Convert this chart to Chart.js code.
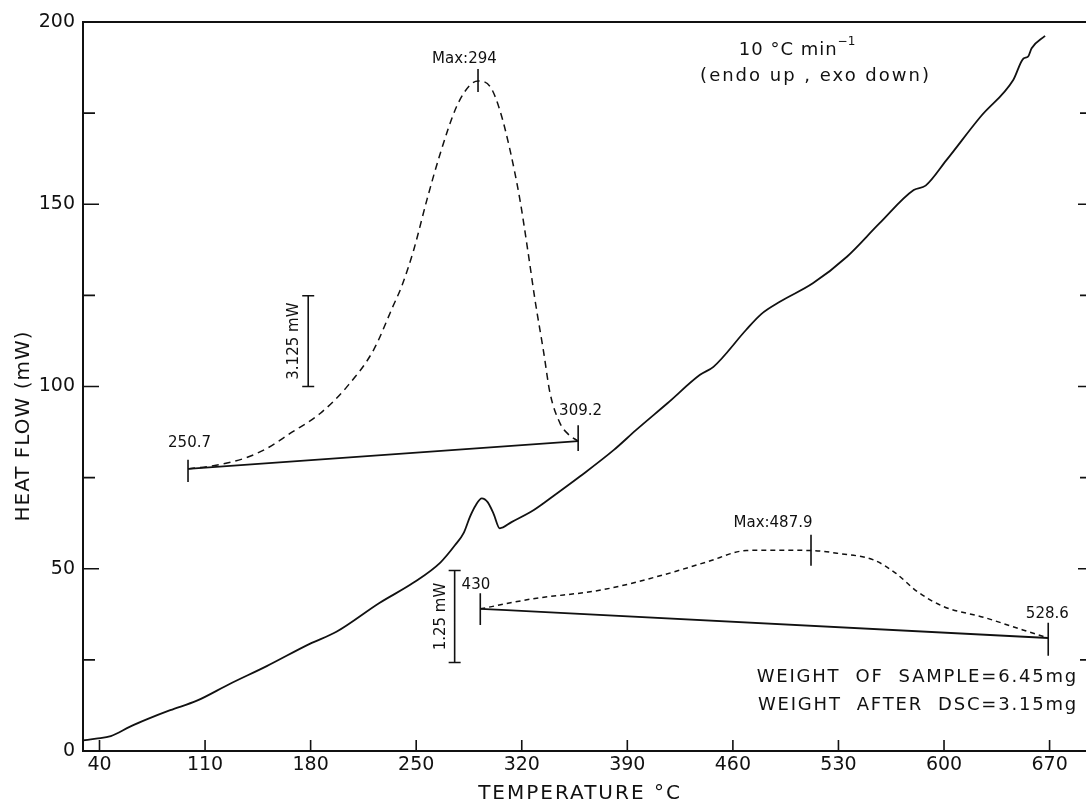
<!DOCTYPE html>
<html>
<head>
<meta charset="utf-8">
<script src="https://cdn.jsdelivr.net/npm/chart.js@4/dist/chart.umd.min.js"></script>
<style>
html, body { margin: 0; padding: 0; background: #fff; overflow: hidden; }
canvas { display: block; }
</style>
</head>
<body>
<canvas id="chart" width="1096" height="804"></canvas>
<script>
'use strict';

var FONT = 'DejaVu Sans';
var INK = '#111';

var xTicks = [40, 110, 180, 250, 320, 390, 460, 530, 600, 670];
var yTicks = [0, 50, 100, 150, 200];
var yMinorTicks = [25, 75, 125, 175];

// main DSC trace
var mainT  = [29.3, 37.7, 47.5, 60.3, 72.1, 86.9, 104.6, 126.3, 150.9, 179.4, 197.1, 225.6, 248.3, 266.0, 275.8, 281.7, 285.7, 289.6, 293.5, 297.5, 301.4, 305.4, 313.2, 328.0, 342.8, 358.5, 381.1, 395.9, 416.6, 438.2, 447.1, 468.7, 478.6, 491.4, 513.0, 535.6, 557.3, 579.9, 587.8, 601.6, 624.2, 645.9, 652.7, 655.7, 658.1, 667.0];
var mainHF = [2.9, 3.4, 4.1, 6.7, 8.8, 11.2, 13.8, 18.4, 23.3, 29.4, 32.7, 40.6, 46.2, 51.7, 56.5, 60, 64.3, 67.5, 69.3, 68.2, 65, 61.1, 62.8, 66.1, 70.5, 75.3, 82.6, 88.1, 95.4, 103.2, 105.4, 115.5, 119.8, 123.3, 128.3, 135.6, 144.8, 153.9, 155.1, 162.1, 174, 184.1, 190, 190.5, 192.8, 196.2];

// expanded first peak (dashed)
var peak1T  = [98.7, 116.4, 136.1, 150.9, 166.6, 186.3, 204.0, 221.7, 234.5, 240.4, 248.3, 257.1, 266.0, 276.8, 285.7, 291.2, 299.0, 305.4, 312.2, 318.8, 324.3, 328.8, 334.3, 338.8, 345.4, 350.6, 357.4];
var peak1HF = [77.4, 78.3, 80.3, 83.0, 87.2, 92.6, 99.9, 110, 121.9, 127.5, 137.4, 151.2, 164, 176.8, 182.7, 183.8, 182.3, 175.9, 164.9, 151.2, 136.5, 123.7, 110, 98.1, 89.9, 87, 85.0];
var base1T  = [98.7, 357.4];
var base1HF = [77.4, 85.0];

// expanded second peak (dashed)
var peak2T  = [292.5, 326.5, 373.1, 413.8, 442.9, 469.0, 486.5, 512.7, 530.1, 553.4, 567.9, 582.4, 599.9, 626.1, 652.3, 669.1];
var peak2HF = [39.0, 41.7, 44.2, 48.3, 51.9, 55.0, 55.1, 55.0, 54.2, 52.4, 48.8, 43.7, 39.6, 36.7, 33.2, 31.0];
var base2T  = [292.5, 669.1];
var base2HF = [39.0, 31.0];

// short vertical marks: [temperature, from, to]
var marks = [[98.7, 73.8, 79.9], [357.4, 82.3, 89.4], [291.0, 180.8, 187.1],
             [292.5, 34.6, 43.3], [669.1, 26.1, 35.2], [511.8, 50.8, 59.3]];

// scale bars: [temperature, from, to, label]
var bars = [[178.4, 100, 124.9, '3.125 mW'], [275.5, 24.3, 49.5, '1.25 mW']];

// text notes: [temperature, heat flow, text]
var notes = [[282.0, 189.8, 'Max:294'], [99.7, 84.5, '250.7'], [359.0, 93.3, '309.2'],
             [486.6, 62.6, 'Max:487.9'], [289.6, 45.5, '430'], [668.5, 37.6, '528.6']];

function pts(xs, ys) {
    return xs.map(function (x, i) { return { x: x, y: ys[i] }; });
}

function line(xs, ys, width, dash) {
    return {
        data: pts(xs, ys),
        showLine: true,
        borderColor: INK,
        borderWidth: width,
        borderDash: dash || [],
        pointRadius: 0,
        cubicInterpolationMode: 'monotone'
    };
}

function text(ctx, str, x, y, size, align, spacing, rot) {
    ctx.save();
    ctx.font = size + 'px "' + FONT + '"';
    ctx.fillStyle = INK;
    ctx.letterSpacing = (spacing || 0) + 'px';
    ctx.textAlign = align || 'center';
    ctx.textBaseline = 'middle';
    ctx.translate(x, y);
    if (rot) ctx.rotate(rot);
    ctx.fillText(str, 0, 0);
    ctx.restore();
}

var extras = {
    id: 'extras',
    afterDraw: function (chart) {
        var ctx = chart.ctx, a = chart.chartArea;
        var sx = chart.scales.x, sy = chart.scales.y;
        function px(v) { return sx.getPixelForValue(v); }
        function py(v) { return sy.getPixelForValue(v); }

        ctx.save();
        ctx.strokeStyle = INK;
        ctx.lineWidth = 2;
        ctx.strokeRect(a.left, a.top, a.right - a.left, a.bottom - a.top);

        ctx.lineWidth = 1.6;
        ctx.beginPath();
        yTicks.forEach(function (v) {
            ctx.moveTo(a.left, py(v)); ctx.lineTo(a.left + 16, py(v));
            ctx.moveTo(a.right, py(v)); ctx.lineTo(a.right - 12, py(v));
        });
        yMinorTicks.forEach(function (v) {
            ctx.moveTo(a.left, py(v)); ctx.lineTo(a.left + 12, py(v));
            ctx.moveTo(a.right, py(v)); ctx.lineTo(a.right - 10, py(v));
        });
        xTicks.forEach(function (v) {
            ctx.moveTo(px(v), a.bottom); ctx.lineTo(px(v), a.bottom - 11);
        });
        marks.forEach(function (m) {
            ctx.moveTo(px(m[0]), py(m[1])); ctx.lineTo(px(m[0]), py(m[2]));
        });
        bars.forEach(function (b) {
            var x = px(b[0]);
            ctx.moveTo(x, py(b[1])); ctx.lineTo(x, py(b[2]));
            ctx.moveTo(x - 6, py(b[1])); ctx.lineTo(x + 6, py(b[1]));
            ctx.moveTo(x - 6, py(b[2])); ctx.lineTo(x + 6, py(b[2]));
        });
        ctx.stroke();
        ctx.restore();

        bars.forEach(function (b) {
            text(ctx, b[3], px(b[0]) - 14, py((b[1] + b[2]) / 2), 15, 'center', 0, -Math.PI / 2);
        });
        notes.forEach(function (n) {
            text(ctx, n[2], px(n[0]), py(n[1]), 15, 'center', 0);
        });

        // rate note with superscript
        ctx.save();
        ctx.font = '18px "' + FONT + '"';
        ctx.letterSpacing = '1px';
        var main = '10 \u00B0C min';
        var w1 = ctx.measureText(main).width;
        ctx.font = '12px "' + FONT + '"';
        var w2 = ctx.measureText('\u22121').width;
        ctx.restore();
        var cx = px(503.2), cy = py(192.3);
        text(ctx, main, cx - (w1 + w2) / 2, cy, 18, 'left', 1);
        text(ctx, '\u22121', cx - (w1 + w2) / 2 + w1, cy - 8, 12, 'left', 0);
        text(ctx, '(endo up , exo down)', px(514.8), py(185.2), 18, 'center', 2);

        text(ctx, 'WEIGHT  OF  SAMPLE=6.45mg', 1078, py(20.3), 18, 'right', 1.8);
        text(ctx, 'WEIGHT  AFTER  DSC=3.15mg', 1078, py(12.6), 18, 'right', 1.8);

        text(ctx, 'HEAT FLOW (mW)', 24, 426, 20, 'center', 1, -Math.PI / 2);
        text(ctx, 'TEMPERATURE \u00B0C', 580, 794, 20, 'center', 2);
    }
};

drawChart();

function drawChart() {
    var ctx = document.getElementById('chart').getContext('2d');
    var tickFont = { family: FONT, size: 19 };
    var myChart = new Chart(ctx, {
        type: 'scatter',
        data: {
            datasets: [
                line(mainT, mainHF, 1.8),
                line(peak1T, peak1HF, 1.5, [7, 5]),
                line(base1T, base1HF, 1.8),
                line(peak2T, peak2HF, 1.5, [5, 4]),
                line(base2T, base2HF, 1.8)
            ]
        },
        options: {
            responsive: false,
            animation: false,
            devicePixelRatio: 1,
            layout: { padding: { top: 22, right: 6, left: 0, bottom: 0 } },
            plugins: { legend: { display: false }, tooltip: { enabled: false } },
            scales: {
                x: {
                    type: 'linear',
                    min: 29.06,
                    max: 696.8,
                    grid: { display: false, drawTicks: false },
                    border: { display: false },
                    afterBuildTicks: function (s) { s.ticks = xTicks.map(function (v) { return { value: v }; }); },
                    afterFit: function (s) { s.height = 53; },
                    ticks: { font: tickFont, color: INK, padding: 3, maxRotation: 0, autoSkip: false }
                },
                y: {
                    min: 0,
                    max: 200,
                    grid: { display: false, drawTicks: false },
                    border: { display: false },
                    afterBuildTicks: function (s) { s.ticks = yTicks.map(function (v) { return { value: v }; }); },
                    afterFit: function (s) { s.width = 83; },
                    ticks: { font: tickFont, color: INK, padding: 8 }
                }
            }
        },
        plugins: [extras]
    });
}
</script>
</body>
</html>
